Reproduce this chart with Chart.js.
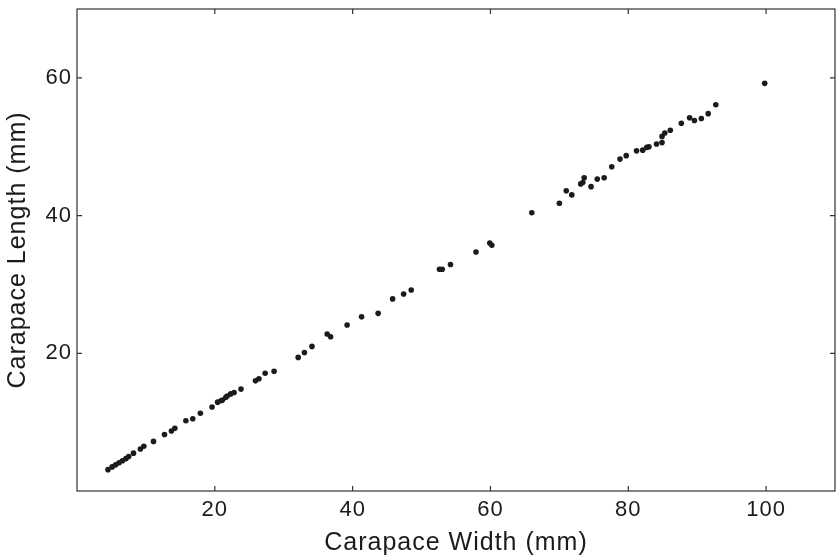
<!DOCTYPE html>
<html>
<head>
<meta charset="utf-8">
<script src="https://cdn.jsdelivr.net/npm/chart.js@4"></script>
<style>
	html, body { margin: 0; padding: 0; background: #fff; }
	#wrap { width: 839px; height: 558px; }
</style>
</head>
<body>
<div id="wrap"><canvas id="crabChart"></canvas></div>
<script>
// carapace width (mm)
var widths = [
	4.5, 5.1, 5.6, 6.1, 6.6, 7.1, 7.5, 8.2, 9.2, 9.7,
	11.1, 12.7, 13.7, 14.2, 15.8, 16.8, 17.9, 19.6, 20.4, 20.9,
	21.1, 21.6, 21.8, 22.3, 22.8, 23.8, 25.9, 26.4, 27.3, 28.6,
	32.1, 33.0, 34.1, 36.3, 36.8, 39.2, 41.3, 43.7, 45.8, 47.4,
	48.5, 52.6, 53.0, 54.2, 57.9, 59.9, 60.2, 66.0, 70.0, 71.0,
	71.8, 73.1, 73.4, 73.6, 74.6, 75.5, 76.5, 77.6, 78.8, 79.7,
	81.2, 82.1, 82.7, 83.0, 84.1, 84.9, 84.9, 85.3, 86.1, 87.7,
	88.9, 89.6, 90.6, 91.6, 92.7, 99.8,
];
// carapace length (mm), same order
var lengths = [
	3.1, 3.5, 3.8, 4.1, 4.4, 4.7, 5.0, 5.5, 6.1, 6.5,
	7.2, 8.2, 8.7, 9.1, 10.2, 10.5, 11.3, 12.2, 12.9, 13.1,
	13.2, 13.6, 13.8, 14.1, 14.3, 14.8, 16.0, 16.3, 17.1, 17.4,
	19.4, 20.1, 21.0, 22.8, 22.4, 24.1, 25.3, 25.8, 27.9, 28.6,
	29.2, 32.2, 32.2, 32.9, 34.7, 36.0, 35.7, 40.4, 41.8, 43.6,
	43.0, 44.6, 44.8, 45.5, 44.2, 45.3, 45.5, 47.1, 48.2, 48.7,
	49.4, 49.5, 49.9, 50.0, 50.4, 50.6, 51.5, 52.0, 52.4, 53.4,
	54.2, 53.8, 54.1, 54.8, 56.1, 59.2,
];

var xTicks = [20, 40, 60, 80, 100];
var yTicks = [20, 40, 60];

var points = widths.map(function (w, i) {
	return { x: w, y: lengths[i] };
});

var ink = '#1b1b1b';
var fontFamily = '"Liberation Sans", Arial, sans-serif';

// frame around the plot with short inward ticks on all four sides
var framePlugin = {
	id: 'frame',
	beforeDraw: function (chart) {
		chart.ctx.letterSpacing = '1px';
	},
	afterDraw: function (chart) {
		var ctx = chart.ctx;
		var a = chart.chartArea;
		var xs = chart.scales.x;
		var ys = chart.scales.y;
		var len = 5;
		ctx.save();
		ctx.strokeStyle = '#333';
		ctx.lineWidth = 1.2;
		ctx.strokeRect(a.left, a.top, a.right - a.left, a.bottom - a.top);
		ctx.beginPath();
		xTicks.forEach(function (v) {
			var px = xs.getPixelForValue(v);
			ctx.moveTo(px, a.bottom);
			ctx.lineTo(px, a.bottom - len);
			ctx.moveTo(px, a.top);
			ctx.lineTo(px, a.top + len);
		});
		yTicks.forEach(function (v) {
			var py = ys.getPixelForValue(v);
			ctx.moveTo(a.left, py);
			ctx.lineTo(a.left + len, py);
			ctx.moveTo(a.right, py);
			ctx.lineTo(a.right - len, py);
		});
		ctx.stroke();
		ctx.restore();
	},
};

new Chart(document.getElementById('crabChart'), {
	type: 'scatter',
	data: {
		datasets: [
			{
				label: 'Carapace',
				data: points,
				backgroundColor: ink,
				borderColor: ink,
				pointRadius: 2.8,
				borderWidth: 0,
			},
		],
	},
	options: {
		responsive: true,
		maintainAspectRatio: false,
		animation: false,
		layout: {
			padding: { top: 9, right: 3, left: 0, bottom: 0 },
		},
		plugins: {
			legend: { display: false },
			tooltip: { enabled: false },
		},
		scales: {
			x: {
				type: 'linear',
				min: 0,
				max: 110,
				afterFit: function (scale) {
					scale.height = 67;
					scale.paddingLeft = 0;
					scale.paddingRight = 0;
				},
				afterBuildTicks: function (scale) {
					scale.ticks = xTicks.map(function (v) {
						return { value: v };
					});
				},
				grid: { display: false, drawTicks: false },
				border: { display: false },
				ticks: {
					color: ink,
					padding: 6,
					maxRotation: 0,
					font: { family: fontFamily, size: 22 },
				},
				title: {
					display: true,
					text: 'Carapace Width (mm)',
					color: ink,
					padding: { top: 0, bottom: 0 },
					font: { family: fontFamily, size: 25 },
				},
			},
			y: {
				type: 'linear',
				min: 0,
				max: 70,
				afterFit: function (scale) {
					scale.width = 77;
					scale.paddingTop = 0;
					scale.paddingBottom = 0;
				},
				afterBuildTicks: function (scale) {
					scale.ticks = yTicks.map(function (v) {
						return { value: v };
					});
				},
				grid: { display: false, drawTicks: false },
				border: { display: false },
				ticks: {
					color: ink,
					padding: 5,
					font: { family: fontFamily, size: 22 },
				},
				title: {
					display: true,
					text: 'Carapace Length (mm)',
					color: ink,
					padding: { top: 3, bottom: 0 },
					font: { family: fontFamily, size: 25 },
				},
			},
		},
	},
	plugins: [framePlugin],
});
</script>
</body>
</html>
